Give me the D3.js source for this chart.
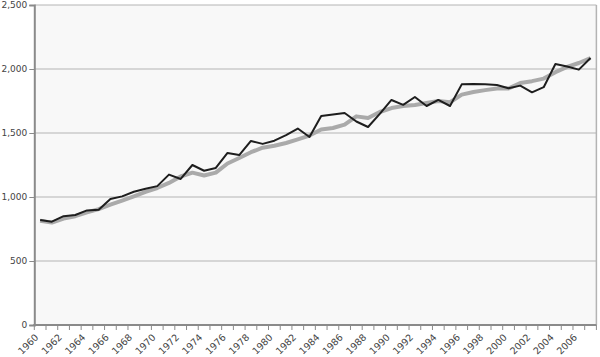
<!DOCTYPE html>
<html><head><meta charset="utf-8">
<script src="https://cdn.jsdelivr.net/npm/d3@7"></script>
<style>body{margin:0;background:#fff}svg{display:block}</style>
</head><body>
<svg id="c" width="600" height="357"></svg>
<script>
const years = d3.range(1960, 2008);
const yTicks = [0, 500, 1000, 1500, 2000, 2500];
const xLabelYears = d3.range(1960, 2007, 2);
const seriesActual = [820,807,850,859,895,900,984,1005,1041,1065,1085,1175,1141,1250,1205,1227,1344,1328,1438,1415,1440,1484,1535,1469,1633,1645,1656,1590,1547,1650,1758,1720,1781,1711,1758,1711,1880,1882,1880,1875,1850,1870,1818,1858,2039,2020,1995,2086];
const seriesTrend = [815,800,832,850,880,905,940,972,1005,1040,1070,1110,1160,1190,1168,1190,1262,1305,1350,1385,1400,1422,1450,1480,1528,1539,1565,1630,1617,1664,1695,1711,1719,1734,1750,1740,1800,1820,1835,1848,1848,1890,1905,1925,1975,2016,2047,2086];

const svg = d3.select("#c");
const L = 34.3, R = 596.4, T = 5, B = 325;
const x = d3.scaleBand().domain(years).range([L, R]).padding(0);
const y = d3.scaleLinear().domain([0, 2500]).range([B, T]);
const font = "'DejaVu Sans', Verdana, sans-serif";

svg.append("rect").attr("x", L).attr("y", T).attr("width", R - L).attr("height", B - T).attr("fill", "#f8f8f8");

// gridlines
svg.append("g").selectAll("line").data(yTicks.filter(d => d > 0)).join("line")
  .attr("x1", L).attr("x2", R).attr("y1", d => y(d)).attr("y2", d => y(d))
  .attr("stroke", "#b4b4b4").attr("stroke-width", 1);
// right border
svg.append("line").attr("x1", R).attr("x2", R).attr("y1", T).attr("y2", B).attr("stroke", "#b4b4b4").attr("stroke-width", 1.5);

// y axis
const yAxis = svg.append("g").attr("transform", `translate(${L},0)`)
  .call(d3.axisLeft(y).tickValues(yTicks).tickSize(5).tickPadding(2).tickFormat(d3.format(",")));
yAxis.select(".domain").attr("stroke", "#8a8a8a").attr("stroke-width", 2);
yAxis.selectAll(".tick line").attr("stroke", "#8a8a8a");
yAxis.selectAll("text").attr("font-family", font).attr("font-size", 9).attr("fill", "#444");

// x axis
const xg = svg.append("g");
xg.append("line").attr("x1", L - 1).attr("x2", R).attr("y1", B).attr("y2", B).attr("stroke", "#8a8a8a").attr("stroke-width", 2);
const bounds = years.map(d => x(d)).concat([R]);
xg.selectAll("line.t").data(bounds).join("line").attr("class", "t")
  .attr("x1", d => d).attr("x2", d => d).attr("y1", B).attr("y2", B + 5)
  .attr("stroke", "#8a8a8a").attr("stroke-width", 1);
xg.selectAll("text").data(xLabelYears).join("text")
  .attr("transform", d => `translate(${x(d) + x.bandwidth() / 2 - 1},${B + 13}) rotate(-45)`)
  .attr("text-anchor", "end").attr("font-family", font).attr("font-size", 9.5).attr("fill", "#444")
  .text(d => d);

const line = d3.line().x((d, i) => x(years[i]) + x.bandwidth() / 2).y(d => y(d));
svg.append("path").datum(seriesTrend).attr("d", line).attr("fill", "none")
  .attr("stroke", "#aaaaaa").attr("stroke-width", 4).attr("stroke-linejoin", "round");
svg.append("path").datum(seriesActual).attr("d", line).attr("fill", "none")
  .attr("stroke", "#1e1e1e").attr("stroke-width", 2).attr("stroke-linejoin", "round");
</script>
</body></html>
